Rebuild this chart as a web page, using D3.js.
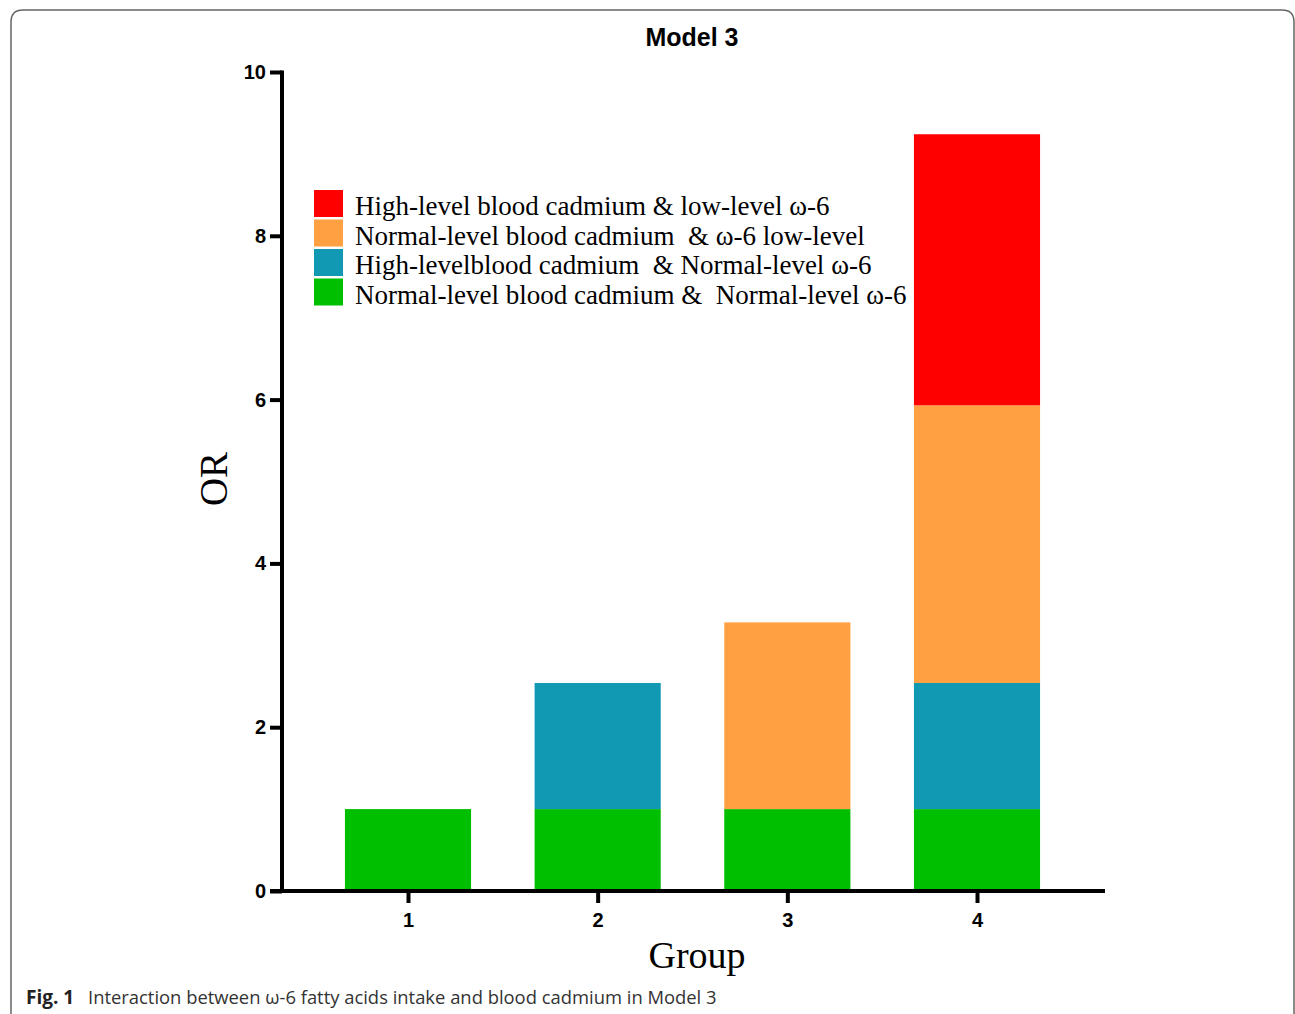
<!DOCTYPE html>
<html>
<head>
<meta charset="utf-8">
<script src="https://cdn.jsdelivr.net/npm/d3@7"></script>
<style>
  html, body { margin: 0; padding: 0; background: #fff; }
  svg { display: block; }
</style>
</head>
<body>
<svg id="chart" width="1295" height="1014"></svg>
<script>
// ---- Data ----
const groups = ["1", "2", "3", "4"];
const seriesKeys = ["normalNormal", "highNormal", "normalLow", "highLow"]; // bottom -> top
const normalNormal = [1.0, 1.0, 1.0, 1.0];
const highNormal   = [0.0, 1.54, 0.0, 1.54];
const normalLow    = [0.0, 0.0, 2.28, 3.39];
const highLow      = [0.0, 0.0, 0.0, 3.31];
const legendLabels = [
  "High-level blood cadmium & low-level \u03c9-6",
  "Normal-level blood cadmium  & \u03c9-6 low-level",
  "High-levelblood cadmium  & Normal-level \u03c9-6",
  "Normal-level blood cadmium &  Normal-level \u03c9-6"
];
const legendKeys = ["highLow", "normalLow", "highNormal", "normalNormal"];
const yTicks = [0, 2, 4, 6, 8, 10];
const colors = { highLow: "#FF0000", normalLow: "#FFA043", highNormal: "#1198B3", normalNormal: "#00BE00" };

const rows = groups.map((g, i) => ({
  group: g,
  normalNormal: normalNormal[i],
  highNormal: highNormal[i],
  normalLow: normalLow[i],
  highLow: highLow[i]
}));

// ---- Layout ----
const svg = d3.select("#chart");
const axisX = 282, baseY = 891, topY = 72;

const y = d3.scaleLinear().domain([0, 10]).range([baseY, topY]);
const x = d3.scalePoint().domain(groups).range([408, 977]);
const barW = x.step() * 0.665;

// Frame
svg.append("path")
  .attr("d", "M11,1014 L11,22 Q11,10 23,10 L1282,10 Q1294,10 1294,22 L1294,1014")
  .attr("fill", "none").attr("stroke", "#666").attr("stroke-width", 1.5);

// Title
svg.append("text").attr("x", 692).attr("y", 46).attr("text-anchor", "middle")
  .style("font-family", "Arial, 'Liberation Sans', sans-serif").style("font-weight", "bold")
  .style("font-size", "25px").text("Model 3");

// Bars
const stack = d3.stack().keys(seriesKeys);
const stacked = stack(rows);
svg.append("g").selectAll("g").data(stacked).join("g")
  .attr("fill", d => colors[d.key])
  .selectAll("rect").data(d => d.filter(p => p[1] - p[0] > 0)).join("rect")
  .attr("x", d => x(d.data.group) - barW / 2)
  .attr("width", barW)
  .attr("y", d => y(d[1]))
  .attr("height", d => y(d[0]) - y(d[1]));

// Y axis
const yAxis = svg.append("g").attr("transform", `translate(${axisX},0)`)
  .call(d3.axisLeft(y).tickValues(yTicks).tickSize(12).tickSizeOuter(0).tickPadding(4));
yAxis.select(".domain").attr("stroke-width", 4).attr("stroke", "#000")
  .attr("d", `M0,${topY - 1.5}V${baseY}`);
yAxis.selectAll(".tick line").attr("stroke-width", 4).attr("stroke", "#000");
yAxis.selectAll(".tick text")
  .style("font-family", "Arial, 'Liberation Sans', sans-serif").style("font-weight", "bold")
  .style("font-size", "20px").attr("fill", "#000");

// X axis
const xAxis = svg.append("g").attr("transform", `translate(0,${baseY})`)
  .call(d3.axisBottom(x).tickSize(12).tickSizeOuter(0).tickPadding(10));
xAxis.select(".domain").attr("stroke-width", 4).attr("stroke", "#000")
  .attr("d", `M270,0H1105`);
xAxis.selectAll(".tick line").attr("stroke-width", 4).attr("stroke", "#000");
xAxis.selectAll(".tick text")
  .style("font-family", "Arial, 'Liberation Sans', sans-serif").style("font-weight", "bold")
  .style("font-size", "20px").attr("fill", "#000");

// Axis titles
svg.append("text").attr("transform", "translate(227,479) rotate(-90)").attr("text-anchor", "middle")
  .style("font-family", "'Times New Roman', 'Liberation Serif', serif").style("font-size", "39px")
  .text("OR");
svg.append("text").attr("x", 697).attr("y", 968).attr("text-anchor", "middle")
  .style("font-family", "'Times New Roman', 'Liberation Serif', serif").style("font-size", "38px")
  .text("Group");

// Legend
const leg = svg.append("g");
legendKeys.forEach((k, i) => {
  const yy = 190 + i * 29.5;
  leg.append("rect").attr("x", 314).attr("y", yy).attr("width", 29).attr("height", 27)
    .attr("fill", colors[k]);
  leg.append("text").attr("x", 355).attr("y", yy + 25)
    .style("font-family", "'Times New Roman', 'Liberation Serif', serif").style("font-size", "27px")
    .style("white-space", "pre").attr("xml:space", "preserve")
    .text(legendLabels[i]);
});

// Caption
svg.append("text").attr("x", 26).attr("y", 1004)
  .style("font-family", "'Open Sans', 'Noto Sans', sans-serif").style("font-weight", "bold")
  .style("font-size", "19px").attr("fill", "#222").text("Fig. 1");
svg.append("text").attr("x", 88).attr("y", 1004)
  .style("font-family", "'Open Sans', 'Noto Sans', sans-serif")
  .style("font-size", "18.4px").attr("fill", "#333")
  .text("Interaction between \u03c9-6 fatty acids intake and blood cadmium in Model 3");
</script>
</body>
</html>
